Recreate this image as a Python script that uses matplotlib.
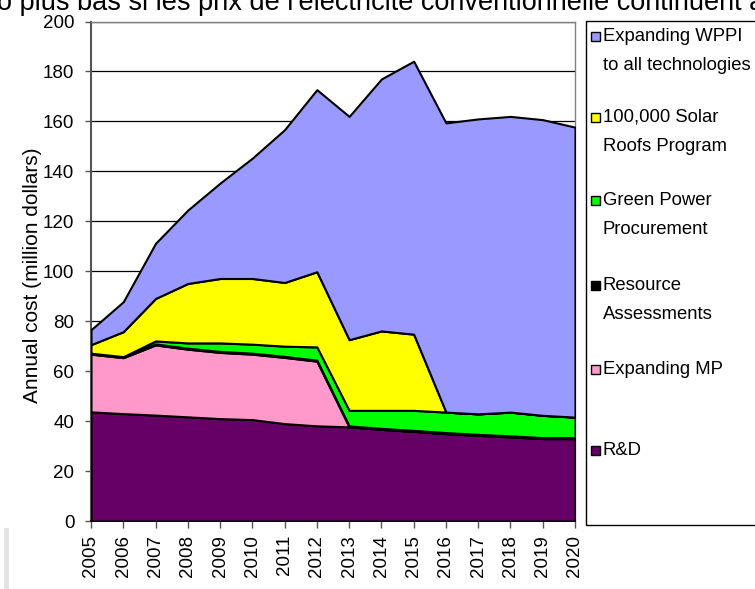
import matplotlib
matplotlib.use("Agg")
import matplotlib.pyplot as plt
from matplotlib.patches import Rectangle

years = list(range(2005, 2021))
rd = [43.7, 43.0, 42.4, 41.7, 41.0, 40.6, 39.0, 38.1, 37.7, 36.7, 35.9, 35.0, 34.3, 33.7, 33.0, 33.0]
mp = [23.1, 22.4, 28.1, 27.1, 26.5, 26.2, 26.5, 25.9, 0, 0, 0, 0, 0, 0, 0, 0]
resource = [0.4, 0.4, 0.4, 0.4, 0.4, 0.4, 0.4, 0.4, 0.4, 0.4, 0.4, 0.4, 0.4, 0.4, 0.4, 0.4]
green = [0.0, 0.0, 1.2, 2.1, 3.4, 3.6, 4.1, 5.3, 6.2, 7.2, 8.0, 8.2, 8.2, 9.5, 8.9, 8.2]
solar = [3.4, 10.0, 17.0, 23.8, 25.8, 26.3, 25.5, 30.1, 28.3, 31.8, 30.5, 0, 0, 0, 0, 0]
wppi = [6.0, 12.0, 22.1, 29.4, 38.2, 48.2, 61.2, 72.9, 89.4, 100.9, 109.3, 115.8, 118.1, 118.4, 118.4, 116.1]

series_labels = ["R&D", "Expanding MP", "Resource\nAssessments", "Green Power\nProcurement",
                 "100,000 Solar\nRoofs Program", "Expanding WPPI\nto all technologies"]
colors = ["#660066", "#FF99CC", "#000000", "#00FF00", "#FFFF00", "#9999FF"]
y_ticks = [0, 20, 40, 60, 80, 100, 120, 140, 160, 180, 200]
title_text = "o plus bas si les prix de l'électricité conventionnelle continuent a"
y_label = "Annual cost (million dollars)"

W, H = 755, 589
plt.rcParams['font.family'] = ['Liberation Sans', 'DejaVu Sans']
fig = plt.figure(figsize=(W / 100, H / 100), dpi=100)

def fx(px):
    return px / W

def fy(py):
    return 1 - py / H

ax = fig.add_axes([fx(91), fy(521), fx(575) - fx(91), fy(21.5) - fy(521)])
ax.stackplot(years, rd, mp, resource, green, solar, wppi, colors=colors,
             edgecolor="black", linewidth=1.5, zorder=3)
ax.set_xlim(2005, 2020)
ax.set_ylim(0, 200)
ax.set_yticks(y_ticks)
ax.set_xticks(years)
ax.set_xticklabels([str(y) for y in years], rotation=90, fontsize=13.5)
ax.set_yticklabels([str(v) for v in y_ticks], fontsize=13.5)
ax.grid(axis="y", color="black", linewidth=0.9, zorder=0)
ax.set_axisbelow(True)
ax.tick_params(axis="y", direction="out", length=4, width=1, color="#555555", pad=8)
ax.tick_params(axis="x", direction="out", length=5, width=1, color="#555555", pad=5)
for s in ["top", "right"]:
    ax.spines[s].set_color("#808080")
    ax.spines[s].set_linewidth(1)
ax.spines["left"].set_color("#555555")
ax.spines["left"].set_linewidth(1.5)
ax.spines["bottom"].set_color("black")
ax.spines["bottom"].set_linewidth(1.2)

fig.text(fx(-3), fy(10), title_text, fontsize=19.5, va="baseline", ha="left")
fig.text(fx(33), fy(275), y_label, fontsize=15, rotation=90, ha="center", va="center")

# faint border artifact at lower left
fig.patches.append(Rectangle((fx(4), fy(589)), fx(9) - fx(4), fy(528) - fy(589),
                             transform=fig.transFigure, facecolor="#e4e4e4",
                             edgecolor="none", zorder=0))

# Legend box
fig.patches.append(Rectangle((fx(586), fy(525)), fx(800) - fx(586), fy(21) - fy(525),
                             transform=fig.transFigure, facecolor="white",
                             edgecolor="black", linewidth=1, zorder=1))
leg_baselines = [455, 374, 290, 205, 121.7, 40.7]
leg_font = ['Liberation Sans Narrow', 'Liberation Sans', 'DejaVu Sans']
for lab, col, b in zip(series_labels, colors, leg_baselines):
    fig.patches.append(Rectangle((fx(591), fy(b)), fx(600) - fx(591), fy(b - 9) - fy(b),
                                 transform=fig.transFigure, facecolor=col,
                                 edgecolor="black", linewidth=1, zorder=2))
    lines = lab.split("\n")
    for i, line in enumerate(lines):
        fig.text(fx(603), fy(b + 29 * i), line, fontsize=13.3, va="baseline", ha="left",
                 family=leg_font, zorder=3)

fig.savefig("out.png", dpi=100)
